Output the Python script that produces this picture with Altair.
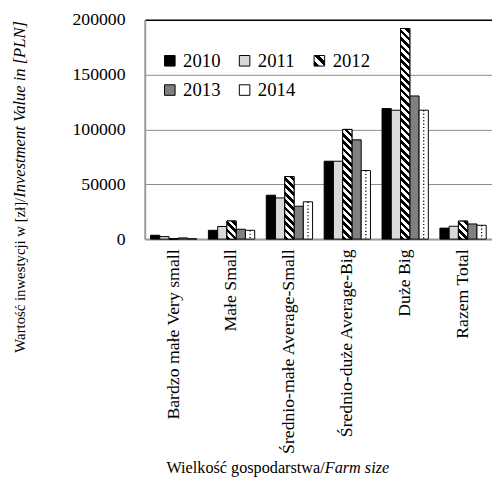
import altair as alt
import pandas as pd

categories = ["Bardzo małe Very small", "Małe Small", "Średnio-małe Average-Small",
              "Średnio-duże Average-Big", "Duże Big", "Razem Total"]
years = ["2010", "2011", "2012", "2013", "2014"]
v2010 = [3500, 8000, 40000, 71000, 119000, 10000]
v2011 = [2300, 11500, 37500, 71000, 117500, 11700]
v2012 = [300, 16500, 57000, 100000, 192000, 16400]
v2013 = [1100, 9000, 30000, 90500, 130500, 13800]
v2014 = [300, 8000, 34000, 62500, 117500, 12600]
y_ticks = [0, 50000, 100000, 150000, 200000]

y_title_normal = "Wartość inwestycji w [zł]/"
y_title_italic = "Investment Value in [PLN]"
x_title_normal = "Wielkość gospodarstwa/"
x_title_italic = "Farm size"

series = dict(zip(years, [v2010, v2011, v2012, v2013, v2014]))
rows = []
for yr, vals in series.items():
    for c, v in zip(categories, vals):
        rows.append({"cat": c, "year": yr, "value": v})
df = pd.DataFrame(rows)

FONT = "Liberation Serif, Times New Roman, serif"


def stripe_stops(n, frac=0.5):
    parts = []
    for k in range(n):
        a, b, c = k / n, (k + frac) / n, (k + 1) / n
        parts += [f"{{offset:{a:.5f},color:'black'}}", f"{{offset:{b:.5f},color:'black'}}",
                  f"{{offset:{b:.5f},color:'white'}}", f"{{offset:{c:.5f},color:'white'}}"]
    return "[" + ",".join(parts) + "]"


N, Q = 40, 7.5
W = "bandwidth('xOffset')"
H = "max(1, scale('y', 0) - scale('y', datum.value))"
S = f"({N * Q} / ({W}*{W} + {H}*{H}))"
bar_stripe_expr = ("({gradient:'linear', x1:0, y1:1, x2:" + S + "*" + W +
                   ", y2:1 - " + S + "*" + H + ", stops:" + stripe_stops(N) + "})")
legend_stripe_expr = ("({gradient:'linear', x1:0, y1:1, x2:1, y2:0, stops:" +
                      stripe_stops(2, 0.5) + "})")

x_enc = alt.X("cat:N", sort=categories, title=None,
              scale=alt.Scale(paddingInner=0.2, paddingOuter=0.1),
              axis=alt.Axis(labelAngle=270, labelFont=FONT, labelFontSize=18,
                            labelColor="black", labelLimit=400, ticks=False,
                            labelPadding=10, domainColor="#9a9a9a", domainWidth=2))
xo_enc = alt.XOffset("year:N", sort=years)
y_enc = alt.Y("value:Q", stack=None, title=None,
              scale=alt.Scale(domain=[0, 200000], nice=False),
              axis=alt.Axis(values=y_ticks, format="d", ticks=False, labelPadding=20,
                            labelFont=FONT, labelFontSize=18, labelColor="black",
                            domainColor="#9a9a9a", domainWidth=2,
                            gridColor={"condition": {"test": "datum.value === 200000", "value": "black"},
                                       "value": "#8c8c8c"},
                            gridWidth={"condition": {"test": "datum.value === 200000", "value": 1.5},
                                       "value": 1}))

fill_scale = alt.Scale(domain=years,
                       range=["black", "#d9d9d9", {"expr": legend_stripe_expr}, "#808080", "white"])

bars = alt.Chart(df).mark_bar(stroke="black", strokeWidth=1).encode(
    x=x_enc, xOffset=xo_enc, y=y_enc,
    fill=alt.Fill("year:N", scale=fill_scale, sort=years,
                  legend=alt.Legend(title=None, orient="none", legendX=16, legendY=32,
                                    direction="horizontal", columns=3,
                                    symbolType="square", symbolSize=115,
                                    symbolStrokeColor="black", symbolStrokeWidth=1,
                                    labelFont=FONT, labelFontSize=19, labelColor="black",
                                    labelOffset=4, columnPadding=15, rowPadding=10, padding=0)),
)

stripes = alt.Chart(df).transform_filter("datum.year == '2012'").mark_bar(
    stroke="black", strokeWidth=1, fill={"expr": bar_stripe_expr}
).encode(x=x_enc, xOffset=xo_enc, y=y_enc)

dots = alt.Chart(df).transform_filter("datum.year == '2014'").mark_rule(
    color="black", strokeWidth=1.3, strokeDash=[1.2, 2.2], xOffset=1
).encode(x=x_enc, xOffset=xo_enc, y=y_enc, y2=alt.datum(0))

one = alt.Data(values=[{"k": 1}])
yt1 = alt.Chart(one).mark_text(angle=270, align="right", baseline="middle", font=FONT,
                               fontSize=15, color="black", text=y_title_normal).encode(
    x=alt.value(-127), y=alt.value(181))
yt2 = alt.Chart(one).mark_text(angle=270, align="left", baseline="middle", font=FONT,
                               fontSize=16.8, fontStyle="italic", color="black",
                               text=y_title_italic).encode(
    x=alt.value(-127), y=alt.value(181))
xt1 = alt.Chart(one).mark_text(align="right", baseline="alphabetic", font=FONT,
                               fontSize=16.5, color="black", text=x_title_normal).encode(
    x=alt.value(183), y=alt.value(461))
xt2 = alt.Chart(one).mark_text(align="left", baseline="alphabetic", font=FONT,
                               fontSize=16.5, fontStyle="italic", color="black",
                               text=x_title_italic).encode(
    x=alt.value(183), y=alt.value(461))

chart = alt.layer(bars, stripes, dots, yt1, yt2, xt1, xt2).properties(
    width=353, height=223,
    autosize=alt.AutoSizeParams(type="none"),
    padding={"left": 139, "top": 8, "right": 0, "bottom": 243},
).configure_view(stroke=None)

chart.save("out.html", embed_options={"renderer": "svg", "actions": False})
